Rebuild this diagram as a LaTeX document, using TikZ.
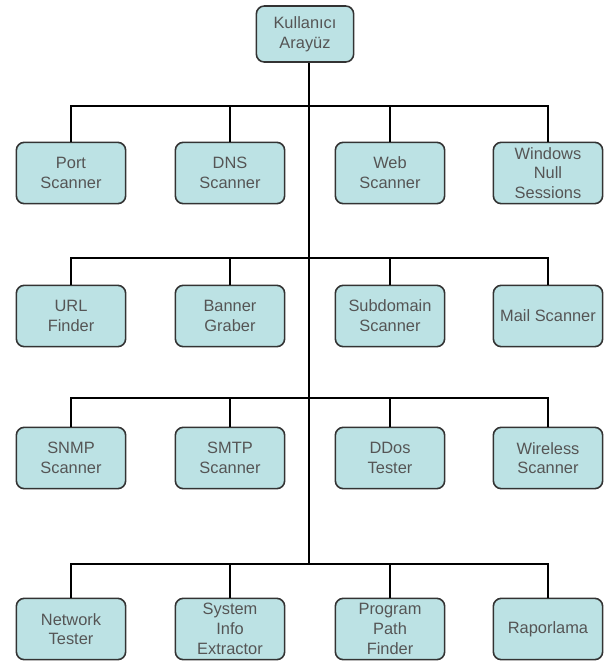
\documentclass[tikz,border=0pt]{standalone}
\usepackage{fontspec}
\setmainfont{Liberation Sans}
\definecolor{boxfill}{HTML}{BCE2E4}
\definecolor{boxtext}{HTML}{555555}
\definecolor{boxline}{HTML}{333333}
\begin{document}
\begin{tikzpicture}[x=0.75pt,y=-0.75pt,
  mod/.style={draw=boxline,line width=1.2pt,fill=boxfill,rounded corners=6pt,
    minimum width=82pt,minimum height=46pt,inner sep=0pt,align=center,
    text=boxtext,font=\fontsize{12.3}{14.8}\selectfont},
  link/.style={line width=1.6pt,black}]
\useasboundingbox (0,0) rectangle (604,664);
\node[mod,minimum width=73pt,minimum height=42pt] (top) at (305,34) {Kullanıcı\\Arayüz};
% row 1
\node[mod] (a1) at (71,173) {Port\\Scanner};
\node[mod] (a2) at (230,173) {DNS\\Scanner};
\node[mod] (a3) at (390,173) {Web\\Scanner};
\node[mod] (a4) at (548,173) {Windows\\Null\\Sessions};
% row 2
\node[mod] (b1) at (71,316) {URL\\Finder};
\node[mod] (b2) at (230,316) {Banner\\Graber};
\node[mod] (b3) at (390,316) {Subdomain\\Scanner};
\node[mod] (b4) at (548,316) {Mail Scanner};
% row 3
\node[mod] (c1) at (71,458) {SNMP\\Scanner};
\node[mod] (c2) at (230,458) {SMTP\\Scanner};
\node[mod] (c3) at (390,458) {DDos\\Tester};
\node[mod] (c4) at (548,458) {Wireless\\Scanner};
% row 4
\node[mod] (d1) at (71,629) {Network\\Tester};
\node[mod] (d2) at (230,629) {System\\Info\\Extractor};
\node[mod] (d3) at (390,629) {Program\\Path\\Finder};
\node[mod] (d4) at (548,629) {Raporlama};
% junctions on the trunk
\coordinate (r1) at (309,106);
\coordinate (r2) at (309,258);
\coordinate (r3) at (309,398);
\coordinate (r4) at (309,564);
\draw[link] (top.south -| r1) -- (r4);
\foreach \r/\n in {r1/a,r2/b,r3/c,r4/d}{
  \draw[link] (\n1.north) |- (\r) -| (\n4.north);
  \draw[link] (\n2.north) -- (\n2.north |- \r);
  \draw[link] (\n3.north) -- (\n3.north |- \r);
}
\end{tikzpicture}
\end{document}
